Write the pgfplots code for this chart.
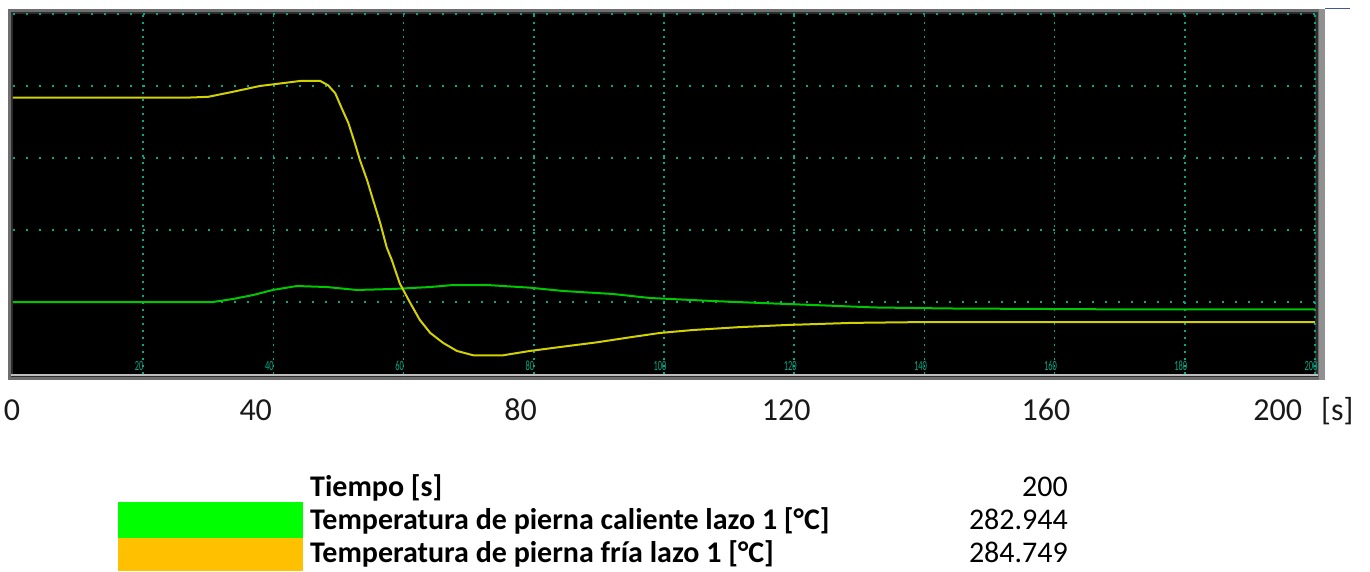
\documentclass[border=0pt]{standalone}
\usepackage{pgfplots}
\pgfplotsset{compat=1.18}
\usepackage{fontspec}
\setmainfont{Carlito}
\definecolor{grd}{RGB}{0,170,135}
\definecolor{ylw}{RGB}{210,210,0}
\definecolor{grn}{RGB}{0,200,0}
\definecolor{lgrn}{RGB}{0,255,0}
\definecolor{lorg}{RGB}{255,192,0}
\definecolor{fr1}{RGB}{110,110,110}
\definecolor{fr2}{RGB}{45,45,45}
\definecolor{fr3}{RGB}{145,145,145}
\definecolor{fr4}{RGB}{190,190,190}
\definecolor{bln}{RGB}{60,90,150}
\begin{document}
\begin{tikzpicture}[x=1pt,y=1pt]
\useasboundingbox (0,0) rectangle (1370,571);
\fill[white] (0,0) rectangle (1370,571);
% window frame
\fill[fr1] (8,191) rectangle (1325,562);
\fill[fr2] (11,194) rectangle (1318,559);
\fill[fr3] (1319,191) rectangle (1325,562);
\fill[fr4] (11,195) rectangle (1318,197);
\draw[bln, line width=1pt] (1325,562.5) -- (1350,562.5);
\begin{axis}[
  at={(13pt,197pt)}, anchor=south west,
  width=1302pt, height=360pt, scale only axis,
  xmin=0, xmax=200, ymin=0, ymax=5,
  axis background/.style={fill=black},
  axis line style={draw=none},
  major tick length=0pt,
  xtick={20,40,...,200},
  xticklabels={\scalebox{.6}[1]{20},\scalebox{.6}[1]{40},\scalebox{.6}[1]{60},\scalebox{.6}[1]{80},\scalebox{.6}[1]{100},\scalebox{.6}[1]{120},\scalebox{.6}[1]{140},\scalebox{.6}[1]{160},\scalebox{.6}[1]{180},\scalebox{.6}[1]{200}},
  xticklabel style={font=\fontsize{14}{14}\selectfont, text=grd, anchor=south, yshift=0pt, xshift=-4pt},
  ytick={1,2,3,4,5},
  yticklabels={},
  grid=major,
  x grid style={grd, line width=1.7pt, dash pattern=on 1.7pt off 5.3pt},
  y grid style={grd, line width=1.7pt, dash pattern=on 1.7pt off 11.3pt},
  extra x ticks={0.46,37.9,78.6,119.4,159.3,194.9},
  extra x tick labels={0,40,80,120,160,200},
  extra x tick style={grid=none, major tick length=0pt,
    xticklabel style={font=\fontsize{32}{32}\selectfont, text=black!90, anchor=base, yshift=-46pt, xshift=0pt}},
  clip=true,
]
% Temperatura de pierna caliente (green)
\addplot[grn, line width=2pt] coordinates {
(0,1.000) (30.7,1.000) (33.8,1.042) (36.9,1.097) (39.9,1.167) (43.6,1.222)
(48.2,1.208) (52.8,1.167) (58.4,1.181) (64.1,1.208) (67.6,1.236) (72.8,1.236)
(79.4,1.199) (84.5,1.153) (92.2,1.111) (97.8,1.056) (107.4,1.014) (114.9,0.986)
(119.0,0.972) (126.9,0.944) (132.4,0.924) (143.8,0.910) (173.4,0.896) (200,0.896)
};
% Temperatura de pierna fria (yellow)
\addplot[ylw, line width=2pt] coordinates {
(0,3.84) (27.2,3.84) (30.0,3.85) (33.8,3.92) (37.9,4.00) (40.6,4.03) (44.1,4.07)
(47.2,4.07) (48.4,4.01) (49.5,3.90) (50.5,3.69) (51.5,3.49) (52.5,3.21) (53.3,2.97)
(54.4,2.69) (55.3,2.42) (56.4,2.10) (57.4,1.76) (58.2,1.58) (59.4,1.26) (61.0,0.99)
(62.5,0.75) (64.1,0.57) (66.1,0.43) (68.2,0.32) (70.7,0.26) (75.3,0.26) (79.4,0.32)
(84.5,0.38) (89.7,0.44) (94.8,0.51) (99.4,0.57) (104.3,0.61) (111.4,0.65)
(118.7,0.68) (128.9,0.71) (138.6,0.72) (200,0.72)
};
\end{axis}
\node[anchor=base west, font=\fontsize{32}{32}\selectfont, text=black!90, inner sep=0pt] at (1321,151) {[s]};
% legend table
\fill[lgrn] (118,33) rectangle (303,69);
\fill[lorg] (118,0) rectangle (303,33);
\begin{scope}[every node/.style={inner sep=0pt, font=\fontsize{30}{30}\selectfont}]
\node[anchor=base west] at (310,75) {\bfseries Tiempo [s]};
\node[anchor=base west] at (310,42) {\bfseries Temperatura de pierna caliente lazo 1 [°C]};
\node[anchor=base west] at (310,9) {\bfseries Temperatura de pierna fría lazo 1 [°C]};
\node[anchor=base east] at (1068,75) {200};
\node[anchor=base east] at (1068,42) {282.944};
\node[anchor=base east] at (1068,9) {284.749};
\end{scope}
\end{tikzpicture}
\end{document}
